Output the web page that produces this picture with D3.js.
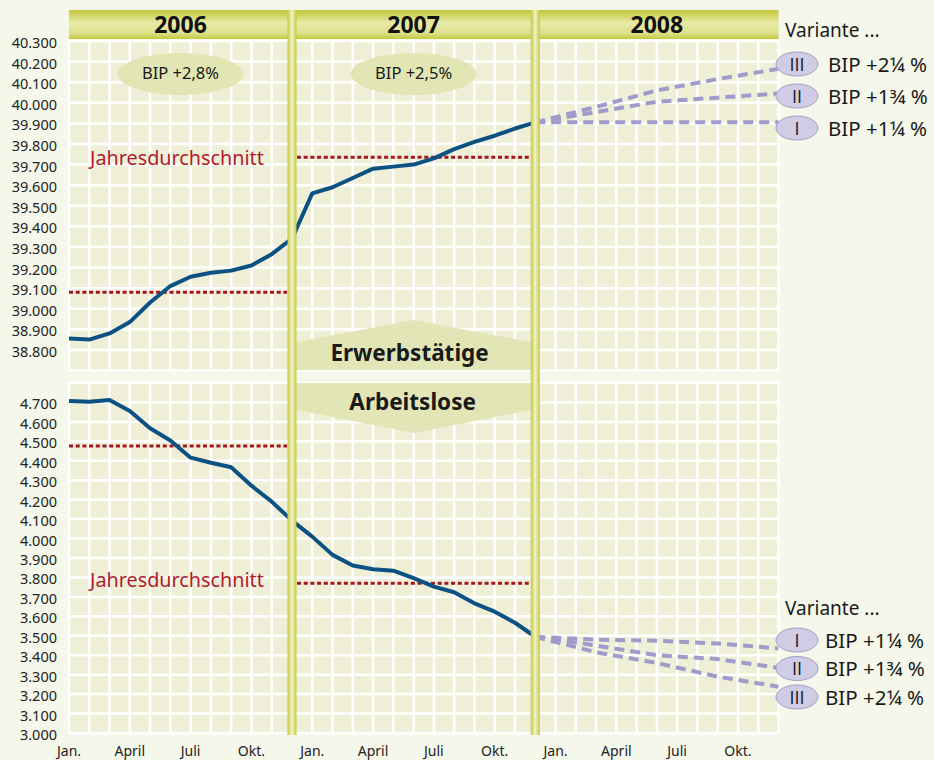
<!DOCTYPE html>
<html>
<head>
<meta charset="utf-8">
<script src="https://cdn.jsdelivr.net/npm/d3@7"></script>
<style>
  body { margin: 0; background: #f5f7ea; }
  svg { display: block; font-family: "Noto Sans", "Open Sans", sans-serif; }
</style>
</head>
<body>
<svg id="chart" width="934" height="760"></svg>
<script>
// Daten in Tausend
var years = ["2006", "2007", "2008"];
var monthLabels = ["Jan.", "April", "Juli", "Okt."];
var monthLabelIdx = [0, 3, 6, 9];

var erwerb2006 = [38855, 38850, 38880, 38935, 39030, 39110, 39155, 39175, 39185, 39210, 39265, 39340];
var erwerb2007 = [39560, 39590, 39635, 39680, 39690, 39700, 39730, 39775, 39810, 39840, 39875, 39905];
var erwerbAvg = [39080, 39735];
var erwerbTicks = [38800, 38900, 39000, 39100, 39200, 39300, 39400, 39500, 39600, 39700, 39800, 39900, 40000, 40100, 40200, 40300];

var arbeitslos2006 = [4708, 4704, 4713, 4656, 4567, 4504, 4416, 4390, 4367, 4272, 4190, 4092];
var arbeitslos2007 = [4010, 3916, 3861, 3842, 3835, 3796, 3753, 3724, 3667, 3624, 3567, 3495];
var arbeitslosAvg = [4476, 3770];
var arbeitslosTicks = [3000, 3100, 3200, 3300, 3400, 3500, 3600, 3700, 3800, 3900, 4000, 4100, 4200, 4300, 4400, 4500, 4600, 4700];

// Prognose 2008: Dez 07, März, Juni, Sept, Dez 08
var progMonths = [23, 26, 29, 32, 35];
var erwerbVariants = [
    {id: "I",   label: "BIP +1¼ %", values: [39905, 39905, 39905, 39905, 39905]},
    {id: "II",  label: "BIP +1¾ %", values: [39905, 39955, 40005, 40025, 40045]},
    {id: "III", label: "BIP +2¼ %", values: [39905, 39980, 40060, 40115, 40165]}
];
var arbeitslosVariants = [
    {id: "I",   label: "BIP +1¼ %", values: [3495, 3480, 3475, 3460, 3435]},
    {id: "II",  label: "BIP +1¾ %", values: [3495, 3450, 3400, 3380, 3335]},
    {id: "III", label: "BIP +2¼ %", values: [3495, 3415, 3360, 3290, 3238]}
];
var bipLabels = ["BIP +2,8%", "BIP +2,5%"];

var svg = d3.select("#chart");
var de = d3.formatLocale({decimal: ",", thousands: ".", grouping: [3], currency: ["", "€"]});
var fmt = de.format(",d");

var x = d3.scaleLinear().domain([0, 35]).range([69, 778.5]);
var yTop = d3.scaleLinear().domain([38700, 40300]).range([370.5, 41]);
var yBot = d3.scaleLinear().domain([3000, 4800]).range([733, 383]);

var defs = svg.append("defs");
var hg = defs.append("linearGradient").attr("id", "headGrad").attr("x1", 0).attr("x2", 0).attr("y1", 0).attr("y2", 1);
hg.append("stop").attr("offset", "0%").attr("stop-color", "#c3c737");
hg.append("stop").attr("offset", "45%").attr("stop-color", "#e8eaa8");
hg.append("stop").attr("offset", "80%").attr("stop-color", "#dde08a");
hg.append("stop").attr("offset", "100%").attr("stop-color", "#c5c83c");
var sg = defs.append("linearGradient").attr("id", "sepGrad");
sg.append("stop").attr("offset", "0%").attr("stop-color", "#c4c83a");
sg.append("stop").attr("offset", "50%").attr("stop-color", "#f1f3cc");
sg.append("stop").attr("offset", "100%").attr("stop-color", "#c4c83a");

function drawPanel(y, domainTicks) {
    var g = svg.append("g");
    var y0 = y.range()[0], y1 = y.range()[1];
    g.append("rect")
        .attr("x", x(0)).attr("y", y1)
        .attr("width", x(35) - x(0)).attr("height", y0 - y1)
        .attr("fill", "#efefd7");
    g.selectAll(".vgrid").data(d3.range(0, 36)).enter().append("line")
        .attr("x1", d => x(d)).attr("x2", d => x(d))
        .attr("y1", y1).attr("y2", y0)
        .attr("stroke", "#fff").attr("stroke-width", 2.5);
    var dom = y.domain();
    g.selectAll(".hgrid").data(d3.range(dom[0], dom[1] + 1, 100)).enter().append("line")
        .attr("x1", x(0) - 1).attr("x2", x(35) + 1)
        .attr("y1", d => y(d)).attr("y2", d => y(d))
        .attr("stroke", "#fff").attr("stroke-width", 2.5);
    g.selectAll(".ytick").data(domainTicks).enter().append("text")
        .attr("x", 57).attr("y", d => y(d) + 7)
        .attr("text-anchor", "end")
        .attr("font-size", 14.5)
        .attr("fill", "#222")
        .text(d => fmt(d));
}

drawPanel(yTop, erwerbTicks);
drawPanel(yBot, arbeitslosTicks);

// Mittelteil mit den Bezeichnungen
var xm = (x(11) + x(23)) / 2;
svg.append("path")
    .attr("d", `M${x(11)},370 L${x(11)},343 L${xm},320 L${x(23)},343 L${x(23)},370 Z`)
    .attr("fill", "#e2e5b6");
svg.append("path")
    .attr("d", `M${x(11)},383 L${x(11)},409 L${xm},433 L${x(23)},409 L${x(23)},383 Z`)
    .attr("fill", "#e2e5b6");
svg.append("text").attr("x", xm - 4).attr("y", 361)
    .attr("text-anchor", "middle").attr("font-size", 22.5).attr("font-weight", "bold")
    .attr("fill", "#1a1a1a").text("Erwerbstätige");
svg.append("text").attr("x", xm - 1).attr("y", 410)
    .attr("text-anchor", "middle").attr("font-size", 22.5).attr("font-weight", "bold")
    .attr("fill", "#1a1a1a").text("Arbeitslose");

// BIP Ellipsen
var bipCenters = [(x(0) + x(11)) / 2, xm];
bipLabels.forEach(function(t, i) {
    svg.append("ellipse").attr("cx", bipCenters[i]).attr("cy", 74)
        .attr("rx", 63).attr("ry", 21).attr("fill", "#e2e5b4");
    svg.append("text").attr("x", bipCenters[i]).attr("y", 79)
        .attr("text-anchor", "middle").attr("font-size", 16.5)
        .attr("fill", "#1a1a1a").text(t);
});

// Jahresdurchschnitt
function avgLines(y, avg, labelY) {
    svg.append("line").attr("x1", x(0)).attr("x2", x(11) - 5)
        .attr("y1", y(avg[0])).attr("y2", y(avg[0]))
        .attr("stroke", "#a3161f").attr("stroke-width", 3).attr("stroke-dasharray", "4,2.7");
    svg.append("line").attr("x1", x(11) + 5).attr("x2", x(23) - 5)
        .attr("y1", y(avg[1])).attr("y2", y(avg[1]))
        .attr("stroke", "#a3161f").attr("stroke-width", 3).attr("stroke-dasharray", "4,2.7");
    svg.append("text").attr("x", 177).attr("y", labelY)
        .attr("text-anchor", "middle").attr("font-size", 19.8)
        .attr("fill", "#b01c2c").text("Jahresdurchschnitt");
}
avgLines(yTop, erwerbAvg, 165);
avgLines(yBot, arbeitslosAvg, 587);

// Prognoselinien
function variantLines(y, variants) {
    var line = d3.line().x((d, i) => x(progMonths[i])).y(d => y(d));
    svg.selectAll(null).data(variants).enter().append("path")
        .attr("d", d => line(d.values))
        .attr("fill", "none")
        .attr("stroke", "#9f9bca").attr("stroke-width", 4)
        .attr("stroke-dasharray", "10,6");
}
variantLines(yTop, erwerbVariants);
variantLines(yBot, arbeitslosVariants);

// Verlauf
var months = d3.range(0, 24);
var lineTop = d3.line().x((d, i) => x(months[i])).y(d => yTop(d));
var lineBot = d3.line().x((d, i) => x(months[i])).y(d => yBot(d));
svg.append("path").attr("d", lineTop(erwerb2006.concat(erwerb2007)))
    .attr("fill", "none").attr("stroke", "#0b5283").attr("stroke-width", 4).attr("stroke-linejoin", "round");
svg.append("path").attr("d", lineBot(arbeitslos2006.concat(arbeitslos2007)))
    .attr("fill", "none").attr("stroke", "#0b5283").attr("stroke-width", 4).attr("stroke-linejoin", "round");

// Kopfzeile mit Jahren
svg.append("rect").attr("x", x(0)).attr("y", 10)
    .attr("width", x(35) - x(0)).attr("height", 29)
    .attr("fill", "url(#headGrad)");
var yearCenters = [(x(0) + x(11)) / 2, xm, (x(23) + x(35)) / 2];
svg.selectAll(".year").data(years).enter().append("text")
    .attr("x", (d, i) => yearCenters[i]).attr("y", 33)
    .attr("text-anchor", "middle").attr("font-size", 23).attr("font-weight", "bold")
    .attr("fill", "#111").text(d => d);

// Trennsäulen
[11, 23].forEach(function(m) {
    svg.append("rect").attr("x", x(m) - 4.5).attr("y", 10)
        .attr("width", 9).attr("height", 725)
        .attr("fill", "url(#sepGrad)");
});

// Monatsbeschriftung
years.forEach(function(yr, yi) {
    monthLabels.forEach(function(m, mi) {
        svg.append("text").attr("x", x(yi * 12 + monthLabelIdx[mi])).attr("y", 756)
            .attr("text-anchor", "middle").attr("font-size", 14)
            .attr("fill", "#222").text(m);
    });
});

// Legenden
function legend(variants, titleY, firstY, step, textX, order) {
    svg.append("text").attr("x", 785).attr("y", titleY)
        .attr("font-size", 19).attr("fill", "#1a1a1a").text("Variante ...");
    order.forEach(function(vi, k) {
        var v = variants[vi];
        var cy = firstY + k * step;
        svg.append("ellipse").attr("cx", 797).attr("cy", cy)
            .attr("rx", 21).attr("ry", 12)
            .attr("fill", "#d0cce6").attr("stroke", "#a29ec9").attr("stroke-width", 1);
        svg.append("text").attr("x", 797).attr("y", cy + 6.5)
            .attr("text-anchor", "middle").attr("font-size", 18)
            .attr("font-family", "'Open Sans', sans-serif")
            .attr("fill", "#1a1a1a").text(v.id);
        svg.append("text").attr("x", textX).attr("y", cy + 7.5)
            .attr("font-size", 20.5).attr("fill", "#1a1a1a").text(v.label);
    });
}
legend(erwerbVariants, 37, 64, 32, 828, [2, 1, 0]);
legend(arbeitslosVariants, 615, 640, 28.5, 825, [0, 1, 2]);
</script>
</body>
</html>
